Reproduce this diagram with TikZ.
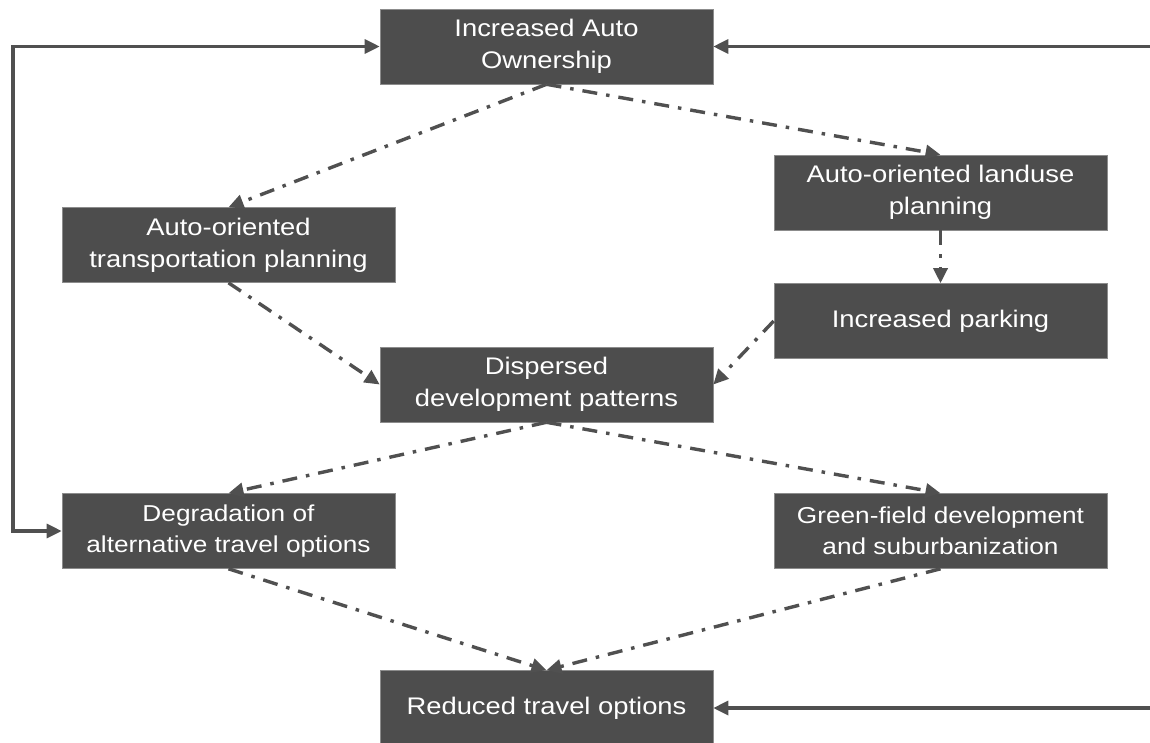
\documentclass[tikz,border=0pt]{standalone}
\usepackage{fontspec}
\setmainfont{Liberation Sans}[FakeStretch=1.14]
\usetikzlibrary{arrows.meta}
\definecolor{boxgray}{RGB}{77,77,77}
\definecolor{edgegray}{RGB}{140,140,140}
\definecolor{arrowgray}{RGB}{80,80,80}
\tikzset{
  box/.style={rectangle, fill=boxgray, draw=edgegray, line width=0.6pt,
    minimum width=333pt, minimum height=75pt, inner sep=0pt,
    text=white, align=center, font=\fontsize{24}{32}\selectfont},
  smallbox/.style={box, font=\fontsize{23}{31}\selectfont},
  solidarrow/.style={draw=arrowgray, line width=3.2pt,
    -{Triangle[length=15pt,width=14pt]}},
  dasharrow/.style={draw=arrowgray, line width=3.4pt,
    dash pattern=on 15pt off 9pt on 3.5pt off 9pt,
    -{Triangle[length=15pt,width=14pt]}}
}
\begin{document}
\begin{tikzpicture}[x=1pt,y=-1pt]
\useasboundingbox (0,0) rectangle (1150,742);
\node[box] (A) at (546.5,46.5) {Increased Auto\\Ownership};
\node[box] (B) at (940.5,192.5) {Auto-oriented landuse\\planning};
\node[box] (C) at (228.5,245) {Auto-oriented\\transportation planning};
\node[box] (D) at (940.5,321) {Increased parking};
\node[box] (E) at (546.5,384.5) {Dispersed\\development patterns};
\node[smallbox] (F) at (228.5,531) {Degradation of\\alternative travel options};
\node[smallbox] (G) at (940.5,531) {Green-field development\\and suburbanization};
\node[box] (H) at (546.5,708) {Reduced travel options};

\coordinate (L) at (13,0);
\coordinate (R1) at (1150,46.5);
\coordinate (R2) at (1150,708);

\draw[solidarrow, {Triangle[length=15pt,width=14pt]}-{Triangle[length=15pt,width=14pt]}]
  (A.west) -- (A.west -| L) |- (F.west);
\draw[solidarrow] (R1) -- (A.east);
\draw[solidarrow] (R2) -- (H.east);

\draw[dasharrow] (A.south) -- (C.north);
\draw[dasharrow] (A.south) -- (B.north);
\draw[dasharrow] (B.south) -- (D.north);
\draw[dasharrow] (C.south) -- (E.west);
\draw[dasharrow] (D.west) -- (E.east);
\draw[dasharrow] (E.south) -- (F.north);
\draw[dasharrow] (E.south) -- (G.north);
\draw[dasharrow] (F.south) -- (H.north);
\draw[dasharrow] (G.south) -- (H.north);
\end{tikzpicture}
\end{document}
